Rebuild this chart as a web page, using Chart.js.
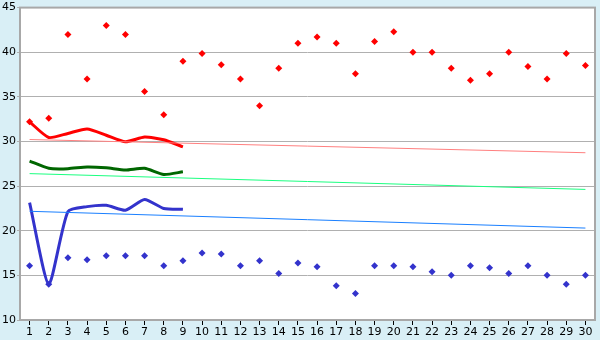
<!DOCTYPE html>
<html>
<head>
<meta charset="utf-8">
<script src="https://cdn.jsdelivr.net/npm/chart.js@4/dist/chart.umd.min.js"></script>
<style>
  html, body { margin: 0; padding: 0; background: #d9eff6; }
  #wrap { width: 600px; height: 340px; }
</style>
</head>
<body>
<div id="wrap"><canvas id="grafico" width="600" height="340"></canvas></div>
<script>
// --- datos ---
const categorias = ['1','2','3','4','5','6','7','8','9','10','11','12','13','14','15',
  '16','17','18','19','20','21','22','23','24','25','26','27','28','29','30'];

const puntosRojos = [32.2, 32.6, 42, 37, 43, 42, 35.6, 33, 39, 39.85, 38.6, 37, 34, 38.2, 41,
  41.7, 41, 37.6, 41.2, 42.3, 40, 40, 38.2, 36.85, 37.6, 40, 38.4, 37, 39.85, 38.5];

const puntosAzules = [16.07, 14, 16.97, 16.74, 17.2, 17.2, 17.2, 16.07, 16.63, 17.5, 17.4, 16.07, 16.63, 15.2, 16.4,
  15.97, 13.85, 12.97, 16.07, 16.07, 15.97, 15.4, 15, 16.07, 15.85, 15.2, 16.07, 15, 14, 15];

const lineaRoja  = [32.2, 30.45, 30.9, 31.4, 30.7, 29.96, 30.5, 30.2, 29.4];
const lineaVerde = [27.8, 27.0, 26.95, 27.15, 27.05, 26.8, 27.0, 26.3, 26.6];
const lineaAzul  = [23.15, 14, 22.15, 22.7, 22.85, 22.3, 23.5, 22.5, 22.4];

// tendencias: valor en la categoria 1 y en la 30
const tendRoja  = [30.22, 28.74];
const tendVerde = [26.4, 24.63];
const tendAzul  = [22.18, 20.3];

const ticksY = [10, 15, 20, 25, 30, 35, 40, 45];

function tendencia(par) {
    return [{ x: categorias[0], y: par[0] }, { x: categorias[categorias.length - 1], y: par[1] }];
}

// fondo blanco del area y borde gris
const marcoPlugin = {
    id: 'marco',
    beforeDraw(chart) {
        const { ctx, chartArea: a } = chart;
        ctx.save();
        ctx.fillStyle = '#d9eff6';
        ctx.fillRect(0, 0, chart.width, chart.height);
        ctx.fillStyle = '#ffffff';
        ctx.fillRect(a.left, a.top, a.right - a.left, a.bottom - a.top);
        ctx.restore();
    },
    afterDraw(chart) {
        const { ctx, chartArea: a } = chart;
        ctx.save();
        ctx.strokeStyle = '#a8a8a8';
        ctx.lineWidth = 2;
        ctx.strokeRect(a.left, a.top, a.right - a.left, a.bottom - a.top);
        ctx.restore();
    }
};

const ctx = document.getElementById('grafico').getContext('2d');
new Chart(ctx, {
    type: 'line',
    data: {
        labels: categorias,
        datasets: [
            { data: tendencia(tendRoja), borderColor: '#ff8080', borderWidth: 1, pointRadius: 0, tension: 0 },
            { data: tendencia(tendVerde), borderColor: '#1aff80', borderWidth: 1, pointRadius: 0, tension: 0 },
            { data: tendencia(tendAzul), borderColor: '#1a80ff', borderWidth: 1, pointRadius: 0, tension: 0 },
            { data: lineaRoja, borderColor: '#ff0000', borderWidth: 3, pointRadius: 0, tension: 0.2 },
            { data: lineaVerde, borderColor: '#006600', borderWidth: 3, pointRadius: 0, tension: 0.2 },
            { data: lineaAzul, borderColor: '#3333cc', borderWidth: 3, pointRadius: 0, tension: 0.2 },
            { data: puntosRojos, showLine: false, pointStyle: 'rectRot', pointRadius: 3.5,
              pointBackgroundColor: '#ff0000', pointBorderColor: '#ff0000', pointBorderWidth: 0 },
            { data: puntosAzules, showLine: false, pointStyle: 'rectRot', pointRadius: 3.5,
              pointBackgroundColor: '#3333cc', pointBorderColor: '#3333cc', pointBorderWidth: 0 }
        ]
    },
    options: {
        responsive: false,
        animation: false,
        layout: { padding: { top: 5, right: 5, left: 0, bottom: 0 } },
        plugins: { legend: { display: false }, tooltip: { enabled: false } },
        scales: {
            x: {
                type: 'category',
                offset: true,
                grid: { display: true, drawOnChartArea: false, drawTicks: true, tickLength: 5, color: '#000000', offset: false },
                border: { display: false },
                ticks: { color: '#000000', font: { family: 'DejaVu Sans', size: 11 }, padding: 1, maxRotation: 0, autoSkip: false },
                afterFit(scale) { scale.height = 20; }
            },
            y: {
                min: 10, max: 45,
                afterBuildTicks(axis) { axis.ticks = ticksY.map(v => ({ value: v })); },
                grid: { color: '#b0b0b0', lineWidth: 1, drawTicks: true, tickLength: 3 },
                border: { display: false },
                ticks: { color: '#000000', font: { family: 'DejaVu Sans', size: 11 }, padding: 1 },
                afterFit(scale) { scale.width = 20; }
            }
        }
    },
    plugins: [marcoPlugin]
});
</script>
</body>
</html>
